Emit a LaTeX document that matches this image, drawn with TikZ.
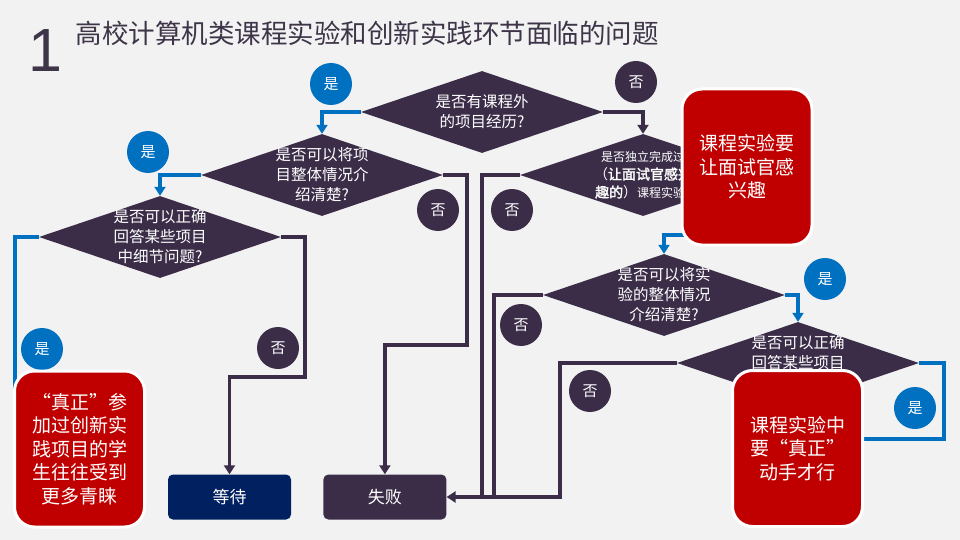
\documentclass[tikz,border=0pt]{standalone}
\usepackage{fontspec}
\setmainfont[AutoFakeBold=2]{Noto Sans CJK SC}
\newfontfamily\numfont{Liberation Sans}
\usepackage{xcolor}
\usepackage{tikz}
\usetikzlibrary{arrows.meta,positioning,shapes.geometric}

\definecolor{paper}{HTML}{F2F2F2}
\definecolor{ink}{HTML}{3B2D48}
\definecolor{yesblue}{HTML}{0070C0}
\definecolor{tipred}{HTML}{C00000}
\definecolor{navy}{HTML}{002060}
\definecolor{titlecol}{HTML}{3E3548}

\begin{document}
\begin{tikzpicture}[
  x=1pt, y=-1pt,
  ask/.style={diamond, fill=ink, minimum width=242pt, minimum height=82pt,
    inner sep=0pt},
  qtext/.style={text=white, align=center, inner sep=0pt,
    font=\fontsize{15.5}{20}\selectfont},
  yesdot/.style={circle, fill=yesblue, minimum size=42pt, inner sep=0pt,
    text=white, font=\fontsize{15}{15}\selectfont},
  nodot/.style={yesdot, fill=ink},
  tipbox/.style={draw=white, line width=3pt, fill=tipred, rounded corners=20pt,
    minimum width=130pt, minimum height=156pt, text=white, align=center,
    font=\fontsize{19}{23.5}\selectfont},
  result/.style={rounded corners=5pt, minimum width=123pt, minimum height=45pt,
    text=white, font=\fontsize{17}{17}\selectfont},
  link/.style={line width=3.2pt, draw=ink},
  arr/.style={link, -{Triangle[width=11pt, length=9pt]}},
  yarr/.style={arr, draw=yesblue},
  ylink/.style={link, draw=yesblue}
]
  \useasboundingbox[fill=paper] (0,0) rectangle (960,540);

  % title
  \node[anchor=base, inner sep=0pt, text=titlecol, font=\numfont\fontsize{61}{61}\selectfont] (num) at (45,72) {1};
  \node[anchor=west, text=titlecol, font=\fontsize{26.5}{26.5}\selectfont] (title) at (72,33)
    {高校计算机类课程实验和创新实践环节面临的问题};

  % questions
  \node[ask, label={[qtext]center:{是否有课程外\\的项目经历?}}] (d1) at (482,112) {};
  \node[ask, label={[qtext]center:{是否可以将项\\目整体情况介\\绍清楚?}}] (d2) at (322,175) {};
  \node[ask, label={[qtext]center:{是否可以正确\\回答某些项目\\中细节问题?}}] (d3) at (160,237) {};
  \node[ask, minimum width=246pt, label={[qtext, font=\fontsize{14}{18}\selectfont]center:{%
    {\fontsize{12}{16}\selectfont 是否独立完成过}\\（\textbf{让面试官感兴}\\\textbf{趣的}）{\fontsize{12}{16}\selectfont 课程实验?}}}] (d4) at (643,175) {};
  \node[ask, label={[qtext]center:{是否可以将实\\验的整体情况\\介绍清楚?}}] (d5) at (664,295) {};
  \node[ask, label={[qtext]center:{是否可以正确\\回答某些项目\\中细节问题?}}] (d6) at (798,363) {};

  % outcomes
  \node[result, fill=navy] (wait) at (229.5,497) {等待};
  \node[result, fill=ink, right=32pt of wait] (fail) {失败};

  % bends
  \coordinate (b1) at (467,345);
  \coordinate (b2) at (305,377);
  \coordinate (b3) at (560,497);
  \coordinate (b4) at (482,497);
  \coordinate (b5) at (494,497);
  \coordinate (b6) at (944,439);
  \coordinate (s1) at (15,395);
  \coordinate (s2) at (705,235);

  % connectors
  \draw[yarr] (d1.west) -| (d2.north);
  \draw[arr] (d1.east) -| (d4.north);
  \draw[yarr] (d2.west) -| (d3.north);
  \draw[arr] (d2.east) -| (b1) -| (fail.north);
  \draw[ylink] (d3.west) -| (s1);
  \draw[arr] (d3.east) -| (b2) -| (wait.north);
  \draw[link] (d4.west) -| (b4);
  \draw[link] (d5.west) -| (b5);
  \draw[arr] (d6.west) -| (b3) -- (fail.east);
  \draw[yarr] (s2) -| (d5.north);
  \draw[yarr] (d5.east) -| (d6.north);
  \draw[ylink] (d6.east) -| (b6) -- (b6 -| 864,0);

  % yes / no marks
  \node[yesdot] (y1) at (331,84) {是};
  \node[yesdot] (y2) at (148,152) {是};
  \node[yesdot] (y3) at (42,349) {是};
  \node[yesdot] (y4) at (825,279) {是};
  \node[yesdot] (y5) at (915,408) {是};
  \node[nodot] (n1) at (636,82) {否};
  \node[nodot] (n2) at (438,210) {否};
  \node[nodot] (n3) at (512,210) {否};
  \node[nodot] (n4) at (278,348) {否};
  \node[nodot] (n5) at (521,325) {否};
  \node[nodot] (n6) at (590,391) {否};

  % conclusions
  \node[tipbox] (tip1) at (747,167) {课程实验要\\让面试官感\\兴趣};
  \node[tipbox] (tip2) at (797.5,448.5) {课程实验中\\要“真正”\\动手才行};
  \node[tipbox] (tip3) at (79.5,449) {“真正”参\\加过创新实\\践项目的学\\生往往受到\\更多青睐};
\end{tikzpicture}
\end{document}
